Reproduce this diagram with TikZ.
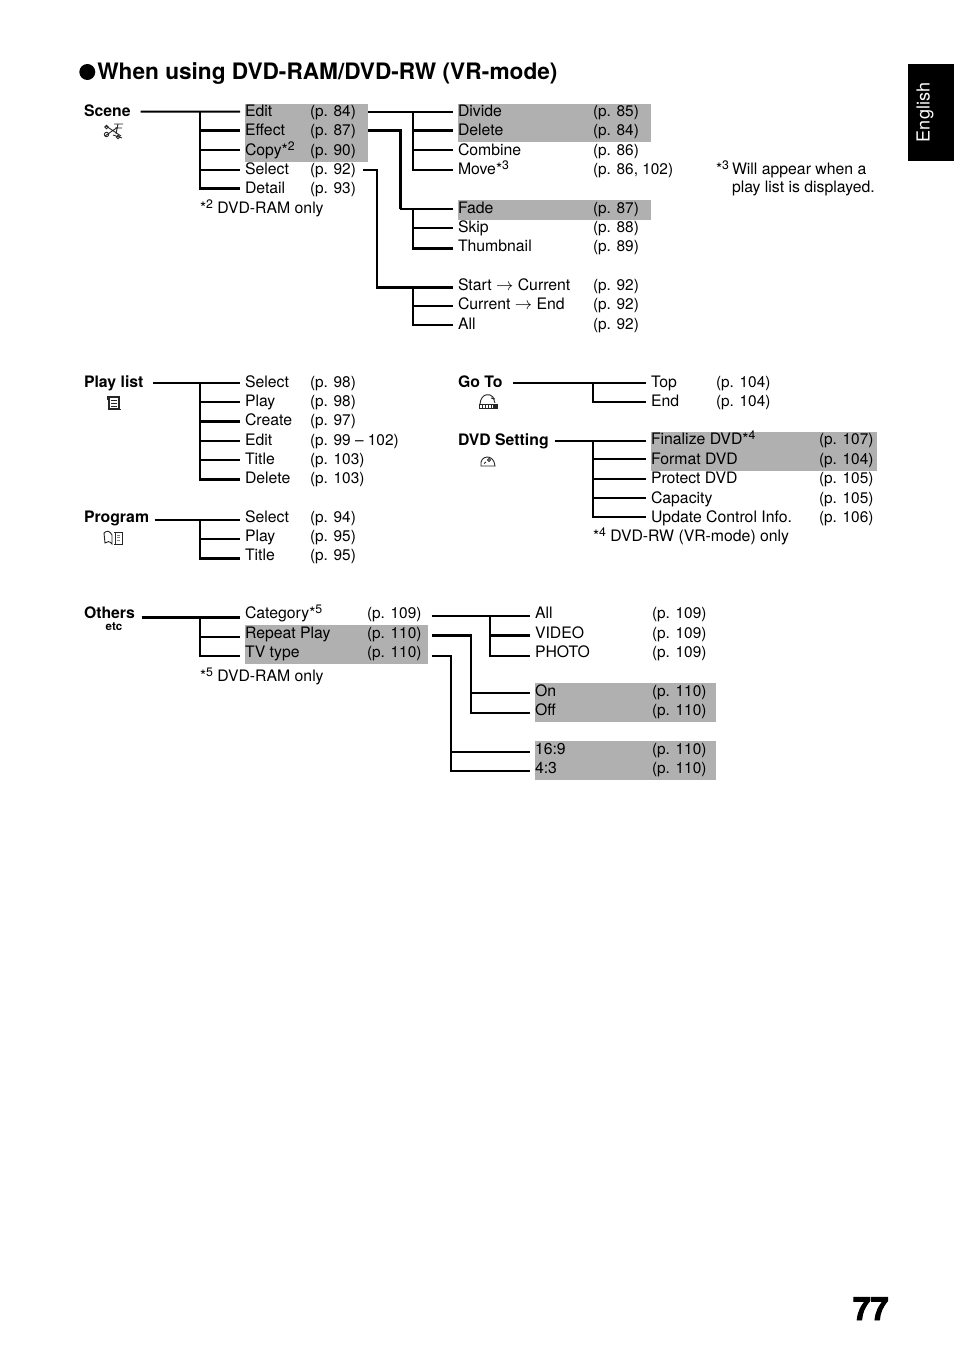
\documentclass[tikz,border=0pt]{standalone}
\usepackage{fontspec}
\setmainfont{TeX Gyre Heros}
\newfontfamily\heavyf[FakeBold=3]{TeX Gyre Heros}
\newcommand{\supn}[1]{*\raisebox{4.8pt}{\fontsize{12.3}{12.3}\selectfont #1}}
\newcommand{\rarr}{ \scalebox{1.2}{\(\rightarrow\)} }
\tikzset{
  every node/.style={inner sep=0pt,outer sep=0pt},
  txt/.style={anchor=west,font=\fontsize{15.4}{18}\selectfont,text height=7pt+#1,text depth=7pt-#1},
  txt/.default=4.5pt,
  leaf/.style={txt=#1,font=\fontsize{15.8}{18}\selectfont,outer xsep=5pt},
  leaf/.default=4.5pt,
  root/.style={anchor=west,font=\fontsize{15.8}{18}\bfseries\selectfont,text height=7pt+4.5pt,text depth=2.5pt},
  note/.style={anchor=base west,font=\fontsize{15.8}{18}\selectfont},
  hl/.style={fill=black!31,draw=none},
  thin line/.style={line width=2pt,line cap=butt,line join=miter},
  thick line/.style={line width=3pt,line cap=butt,line join=miter},
  icon/.style={line width=.9pt,black!85},
}
\begin{document}
\begin{tikzpicture}[x=1pt,y=-1pt]
\useasboundingbox (0,0) rectangle (954,1352);
% grey bands
\fill[hl] (245,104) rectangle (368,162);
\fill[hl] (458,104) rectangle (651,142);
\fill[hl] (458,200) rectangle (651,220);
\fill[hl] (651,432) rectangle (877,471);
\fill[hl] (245,625) rectangle (428,664);
\fill[hl] (535,683) rectangle (716,722);
\fill[hl] (535,741) rectangle (716,780);
% tab, title, page no
\fill (908,64) rectangle (954,161);
\node[rotate=90,text=white,font=\fontsize{18}{20}\selectfont] (tab) at (925,112.5) {English};
\node[circle,fill=black,minimum size=16pt] (dot) at (87.3,72) {};
\node[anchor=base west,font=\fontsize{22.65}{26}\bfseries\selectfont] (title) at (97.3,79) {When using DVD-RAM/DVD-RW (VR-mode)};
\node[anchor=base east,font=\fontsize{32}{36}\heavyf\bfseries\selectfont] (pageno) at (888.5,1320) {77};

% ---------- Scene
\node[root] (scene) at (84,111.5) {Scene};
\node[leaf] (edit) at (240,111.7) {Edit};
\node[leaf] (effect) at (240,130.7) {Effect};
\node[leaf=5pt] (copy) at (240,150) {Copy\supn{2}};
\node[leaf] (select) at (240,169.7) {Select};
\node[leaf] (detail) at (240,188.7) {Detail};
\node[txt] (pedit) at (310,111.7) {(p. 84)};
\node[txt] (peffect) at (310,130.7) {(p. 87)};
\node[txt=5pt] (pcopy) at (310,150) {(p. 90)};
\node[txt] (pselect) at (310,169.7) {(p. 92)};
\node[txt] (pdetail) at (310,188.7) {(p. 93)};
\node[note] (n2) at (200,213) {\supn{2} DVD-RAM only};
\coordinate (bscene) at (200,111.7);
\draw[thin line] ([xshift=10pt]scene.east) -- (edit.west);
\draw[thin line] (bscene) |- (select.west);
\draw[thin line] (bscene |- copy.west) -- (copy.west);
\draw[thick line] (bscene |- effect.west) -- (effect.west);
\draw[thick line] ([xshift=-1pt]bscene |- detail.west) -- (detail.west);
\draw[thin line] (bscene) -- ([yshift=-1pt]bscene |- detail.west);

\node[leaf] (divide) at (453,111.7) {Divide};
\node[leaf] (delete) at (453,130.7) {Delete};
\node[leaf=5pt] (combine) at (453,150) {Combine};
\node[leaf] (move) at (453,169.7) {Move\supn{3}};
\node[txt] at (593,111.7) {(p. 85)};
\node[txt] at (593,130.7) {(p. 84)};
\node[txt=5pt] at (593,150) {(p. 86)};
\node[txt] at (593,169.7) {(p. 86, 102)};
\coordinate (bdiv) at (413,111.7);
\draw[thin line] ([xshift=12pt]pedit.east) -- (divide.west);
\draw[thin line] (bdiv) |- (move.west);
\draw[thick line] (bdiv |- delete.west) -- (delete.west);
\draw[thin line] (bdiv |- combine.west) -- (combine.west);

\node[leaf] (fade) at (453,209) {Fade};
\node[leaf] (skip) at (453,228) {Skip};
\node[leaf=3.5pt] (thumb) at (453,248) {Thumbnail};
\node[txt] at (593,209) {(p. 87)};
\node[txt] at (593,228) {(p. 88)};
\node[txt=3.5pt] at (593,248) {(p. 89)};
\coordinate (bfade) at (413,209);
\coordinate (jeff) at (400,130.7);
\draw[thick line] ([xshift=12pt]peffect.east) -| (jeff |- fade.west);
\draw[thin line] (jeff |- fade.west) -- (fade.west);
\draw[thin line] (bfade) |- (skip.west);
\draw[thick line] ([xshift=-1pt]bfade |- thumb.west) -- (thumb.west);
\draw[thin line] (bfade) -- (bfade |- thumb.west);

\node[leaf=3.5pt] (start) at (453,287) {Start\rarr Current};
\node[leaf=3.5pt] (curr) at (453,306) {Current\rarr End};
\node[leaf] (all) at (453,325) {All};
\node[txt=3.5pt] at (593,287) {(p. 92)};
\node[txt=3.5pt] at (593,306) {(p. 92)};
\node[txt] at (593,325) {(p. 92)};
\coordinate (bstart) at (413,287);
\coordinate (jsel) at (377,169.7);
\draw[thin line] ([xshift=7pt]pselect.east) -| (jsel |- start.west);
\draw[thick line] ([xshift=-1pt]jsel |- start.west) -- (start.west);
\draw[thin line] (bstart) |- (all.west);
\draw[thin line] (bstart |- curr.west) -- (curr.west);

\node[note] (n3a) at (716,174) {\supn{3}};
\node[note] (n3b) at (732,174) {Will appear when a};
\node[note] (n3c) at (732,192) {play list is displayed.};

% ---------- Play list
\node[root] (plist) at (84,383) {Play list};
\node[leaf] (p1) at (240,382.7) {Select};
\node[leaf] (p2) at (240,401.7) {Play};
\node[leaf=3.5pt] (p3) at (240,421.5) {Create};
\node[leaf] (p4) at (240,440.7) {Edit};
\node[leaf] (p5) at (240,460) {Title};
\node[leaf] (p6) at (240,479) {Delete};
\node[txt] at (310,382.7) {(p. 98)};
\node[txt] at (310,401.7) {(p. 98)};
\node[txt=3.5pt] at (310,421.5) {(p. 97)};
\node[txt] at (310,440.7) {(p. 99 -- 102)};
\node[txt] at (310,460) {(p. 103)};
\node[txt] at (310,479) {(p. 103)};
\coordinate (bpl) at (200,382.7);
\draw[thin line] ([xshift=10pt]plist.east |- p1.west) -- (p1.west);
\draw[thin line] (bpl) -- (bpl |- p6.west);
\draw[thin line] (bpl |- p2.west) -- (p2.west);
\draw[thick line] (bpl |- p3.west) -- (p3.west);
\draw[thin line] (bpl |- p4.west) -- (p4.west);
\draw[thin line] (bpl |- p5.west) -- (p5.west);
\draw[thick line] ([xshift=-1pt]bpl |- p6.west) -- (p6.west);

% ---------- Program
\node[root] (prog) at (84,518) {Program};
\node[leaf=2.5pt] (g1) at (240,520) {Select};
\node[leaf=2.5pt] (g2) at (240,539) {Play};
\node[leaf=2.5pt] (g3) at (240,558) {Title};
\node[txt=2.5pt] at (310,520) {(p. 94)};
\node[txt=2.5pt] at (310,539) {(p. 95)};
\node[txt=2.5pt] at (310,558) {(p. 95)};
\coordinate (bpg) at (200,520);
\draw[thin line] ([xshift=5.5pt]prog.east |- g1.west) -- (g1.west);
\draw[thin line] (bpg) -- (bpg |- g3.west);
\draw[thin line] (bpg |- g2.west) -- (g2.west);
\draw[thick line] ([xshift=-1pt]bpg |- g3.west) -- (g3.west);

% ---------- Go To
\node[root] (goto) at (458,383) {Go To};
\node[leaf] (t1) at (646,382.7) {Top};
\node[leaf] (t2) at (646,402) {End};
\node[txt] at (716,382.7) {(p. 104)};
\node[txt] at (716,402) {(p. 104)};
\coordinate (bgo) at (593,382.7);
\draw[thin line] ([xshift=11pt]goto.east |- t1.west) -- (t1.west);
\draw[thin line] (bgo) |- (t2.west);

% ---------- DVD Setting
\node[root] (dvd) at (458,441) {DVD Setting};
\node[leaf=4pt] (d1) at (646,440.7) {Finalize DVD\supn{4}};
\node[leaf=5.5pt] (d2) at (646,459) {Format DVD};
\node[leaf] (d3) at (646,479) {Protect DVD};
\node[leaf=5.5pt] (d4) at (646,498) {Capacity};
\node[leaf=5.5pt] (d5) at (646,517) {Update Control Info.};
\node[txt=4pt] at (819,440.7) {(p. 107)};
\node[txt=5.5pt] at (819,459) {(p. 104)};
\node[txt] at (819,479) {(p. 105)};
\node[txt=5.5pt] at (819,498) {(p. 105)};
\node[txt=5.5pt] at (819,517) {(p. 106)};
\node[note] (n4) at (593,541) {\supn{4} DVD-RW (VR-mode) only};
\coordinate (bdv) at (593,440.7);
\draw[thin line] ([xshift=6pt]dvd.east |- d1.west) -- (d1.west);
\draw[thin line] (bdv) |- (d5.west);
\draw[thin line] (bdv |- d2.west) -- (d2.west);
\draw[thin line] (bdv |- d3.west) -- (d3.west);
\draw[thin line] (bdv |- d4.west) -- (d4.west);

% ---------- Others
\node[root] (others) at (84,614) {Others};
\node[leaf=1pt] (o1) at (240,617.3) {Category\supn{5}};
\node[leaf=1pt] (o2) at (240,637) {Repeat Play};
\node[leaf=1pt] (o3) at (240,656) {TV type};
\node[txt=3pt] (po1) at (367,615.7) {(p. 109)};
\node[txt=3pt] (po2) at (367,635) {(p. 110)};
\node[txt=2pt] (po3) at (367,655.7) {(p. 110)};
\node[note] (n5) at (200,681) {\supn{5} DVD-RAM only};
\coordinate (bot) at (200,617.3);
\draw[thick line] ([xshift=6.5pt]others.east |- o1.west) -- (o1.west);
\draw[thin line] (bot) |- (o3.west);
\draw[thin line] (bot |- o2.west) -- (o2.west);

\node[leaf=3pt] (a1) at (530,615.7) {All};
\node[leaf=3pt] (a2) at (530,635) {VIDEO};
\node[leaf=2pt] (a3) at (530,655.7) {PHOTO};
\node[txt=3pt] at (652,615.7) {(p. 109)};
\node[txt=3pt] at (652,635) {(p. 109)};
\node[txt=2pt] at (652,655.7) {(p. 109)};
\coordinate (bal) at (490,615.7);
\draw[thin line] ([xshift=10pt]po1.east) -- (a1.west);
\draw[thin line] (bal) |- (a3.west);
\draw[thick line] (bal |- a2.west) -- (a2.west);

\node[leaf=3pt] (r1) at (530,693) {On};
\node[leaf=3pt] (r2) at (530,712.7) {Off};
\node[txt=3pt] at (652,693) {(p. 110)};
\node[txt=3pt] at (652,712.7) {(p. 110)};
\coordinate (brp) at (471,635);
\draw[thick line] ([xshift=10pt]po2.east) -- ([xshift=1pt]brp);
\draw[thin line] (brp) |- (r2.west);
\draw[thin line] (brp |- r1.west) -- (r1.west);

\node[leaf=2pt] (w1) at (530,752) {16:9};
\node[leaf=3pt] (w2) at (530,770.7) {4:3};
\node[txt=2pt] at (652,752) {(p. 110)};
\node[txt=3pt] at (652,770.7) {(p. 110)};
\coordinate (btv) at (451,655.7);
\draw[thin line] ([xshift=10pt]po3.east) -| (btv |- w2.west) -- (w2.west);
\draw[thin line] (btv |- w1.west) -- (w1.west);

\node[font=\fontsize{11.5}{11}\bfseries\selectfont] (etc) at (114,627) {etc};

% ---------- icons
% scissors / film (Scene)
\draw[icon] (105,136) -- (118,127) (106,126) -- (121,136);
\draw[icon] (106.5,134.5) circle (2.2pt) (106.5,127) circle (1.8pt) (118,137) circle (1.8pt);
\draw[icon] (114,124) -- (123,124) (115,128) -- (122,128) (118,124) -- (116,134) (113,135) -- (122,138);
% scroll (Play list)
\draw[icon,line width=1.1pt] (107,397) -- (119,397) -- (119,409) -- (109,409) -- (109,398);
\draw[icon] (107,397) -- (107,400) (119,409) -- (121,409);
\draw[icon] (111,400) -- (117,400) (111,403) -- (117,403) (111,406) -- (117,406);
% book and scroll (Program)
\draw[icon] (104,533) .. controls (107,530) and (110,531) .. (112,535) -- (112,544) .. controls (110,541) and (107,541) .. (105,543) -- cycle;
\draw[icon] (114,532) -- (123,532) (115,532) -- (115,544) (122,532) -- (122,544) (114,544) -- (123,544);
\draw[icon,gray] (117,535) -- (120,535) (117,537.5) -- (120,537.5) (117,540) -- (120,540);
% dome and tape (Go To)
\draw[icon] (480,404) .. controls (481,393) and (490,393) .. (493,397);
\draw[icon] (493,397) -- (495,403) (491,398) -- (495,399);
\draw[icon] (479,404) rectangle (497,408);
\draw[icon] (482,404) -- (482,408) (485,404) -- (485,408) (488,404) -- (488,408) (491,404) -- (491,408);
\fill[black!85] (493,404) rectangle (497,408);
% disc (DVD Setting)
\draw[icon] (481,466) .. controls (479,455) and (494,453) .. (495,466) -- cycle;
\draw[icon] (489,460) circle (1.5pt);
\draw[icon] (484,463.5) -- (486,462);
\end{tikzpicture}
\end{document}
